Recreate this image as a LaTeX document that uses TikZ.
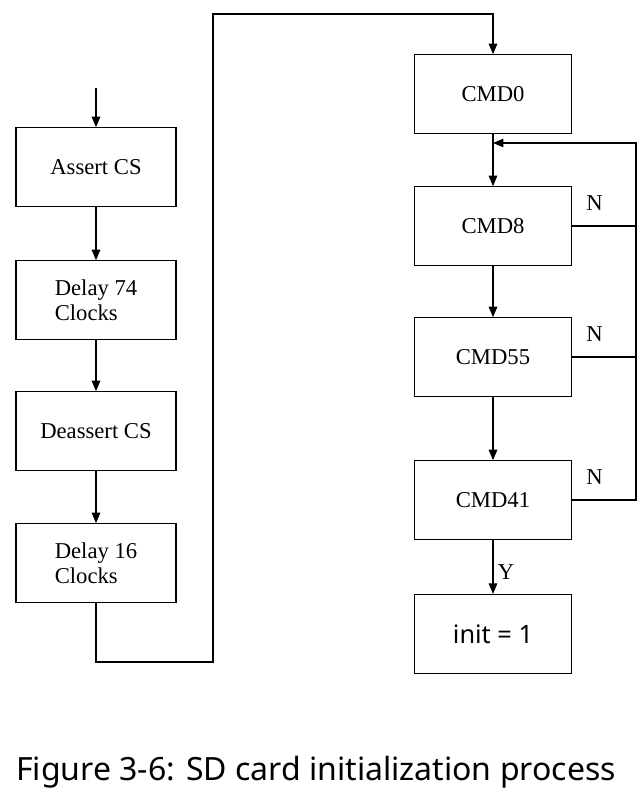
\documentclass[tikz,border=0pt]{standalone}
\usepackage{fontspec}
\setmainfont{Liberation Serif}
\newfontfamily\capfont{Noto Sans}
\usetikzlibrary{arrows}

\begin{document}
\begin{tikzpicture}[x=0.75pt,y=-0.75pt,
    stage/.style={draw, thick, rectangle, minimum width=120pt, minimum height=59pt, font=\fontsize{17}{19}\selectfont, align=left},
    flow/.style={thick, -triangle 45}]
  \useasboundingbox (0,0) rectangle (642,802);

  % left column
  \coordinate (start) at (96,88);
  \node[stage] (assert) at (96,167) {Assert CS};
  \node[stage] (delayA) at (96,300) {Delay 74\\Clocks};
  \node[stage] (deassert) at (96,431) {Deassert CS};
  \node[stage] (delayB) at (96,563) {Delay 16\\Clocks};

  % right column
  \node[stage, minimum width=118pt] (cmdzero) at (493,94) {CMD0};
  \node[stage, minimum width=118pt] (cmdeight) at (493,226) {CMD8};
  \node[stage, minimum width=118pt] (cmdff) at (493,357) {CMD55};
  \node[stage, minimum width=118pt] (cmdfo) at (493,500) {CMD41};
  \node[stage, minimum width=118pt, very thick, font=\capfont\bfseries\fontsize{19}{21}\selectfont] (init) at (493,634) {init = 1};

  \draw[flow] (start) -- (assert);
  \draw[flow] (assert) -- (delayA);
  \draw[flow] (delayA) -- (deassert);
  \draw[flow] (deassert) -- (delayB);
  \draw[flow] (delayB.south) |- (213,662) |- (493,14) -- (cmdzero.north);

  \draw[flow] (cmdzero) -- (cmdeight);
  \draw[flow] (cmdeight) -- (cmdff);
  \draw[flow] (cmdff) -- (cmdfo);
  \draw[flow] (cmdfo) -- (init) node[pos=0.6, right, font=\fontsize{17}{19}\selectfont] {Y};

  \coordinate (back) at (493,143);
  \draw[thick] (cmdeight.east) -- (636,226 |- cmdeight.east) node[pos=0.35, above=8pt, font=\fontsize{17}{19}\selectfont] {N};
  \draw[thick] (cmdff.east) -- (636,357 |- cmdff.east) node[pos=0.35, above=8pt, font=\fontsize{17}{19}\selectfont] {N};
  \draw[flow] (cmdfo.east) -- (636,500 |- cmdfo.east) node[pos=0.35, above=8pt, font=\fontsize{17}{19}\selectfont] {N}
    -- (636,143) -- (back);

  \node[font=\capfont\fontsize{24}{28}\selectfont] (caption) at (316,772) {Figure 3-6: SD card initialization process};
\end{tikzpicture}
\end{document}
